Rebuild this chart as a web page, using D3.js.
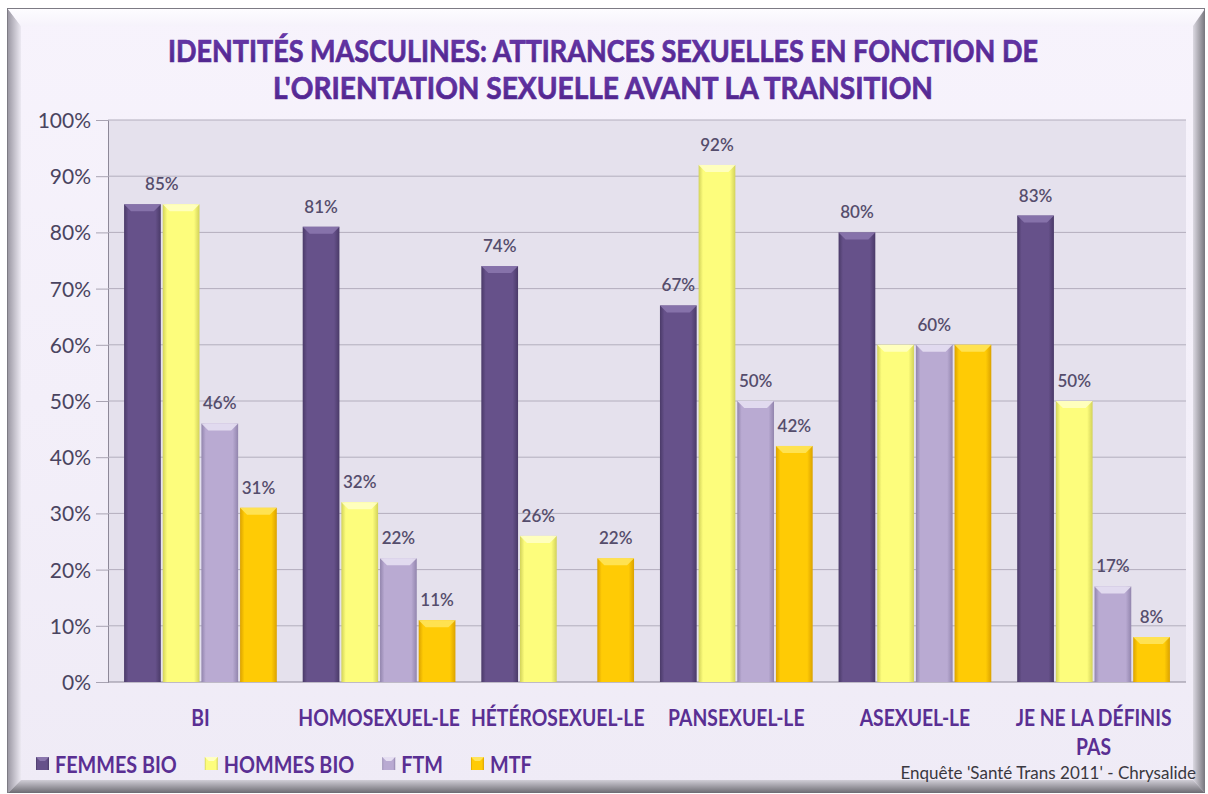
<!DOCTYPE html>
<html><head><meta charset="utf-8">
<script src="https://cdn.jsdelivr.net/npm/d3@7"></script>
<style>body{margin:0;background:#fff}</style>
</head><body>
<svg id="chart" width="1208" height="794"></svg>
<script>
const categories = ["BI", "HOMOSEXUEL-LE", "HÉTÉROSEXUEL-LE", "PANSEXUEL-LE", "ASEXUEL-LE", "JE NE LA DÉFINIS PAS"];
const seriesNames = ["FEMMES BIO", "HOMMES BIO", "FTM", "MTF"];
const femmesBio = [85, 81, 74, 67, 80, 83];
const hommesBio = [85, 32, 26, 92, 60, 50];
const ftm = [46, 22, null, 50, 60, 17];
const mtf = [31, 11, 22, 42, 60, 8];
const yTicks = [0, 10, 20, 30, 40, 50, 60, 70, 80, 90, 100];
const titleLines = ["IDENTITÉS MASCULINES: ATTIRANCES SEXUELLES EN FONCTION DE", "L'ORIENTATION SEXUELLE AVANT LA TRANSITION"];
const sourceText = "Enquête 'Santé Trans 2011' - Chrysalide";

const seriesValues = [femmesBio, hommesBio, ftm, mtf];
const colors = [
  {main:"#66518a", edge:"#4a3a68", cap:"#8a76ad"},
  {main:"#fdfd7c", edge:"#d2d25a", cap:"#ffffc4"},
  {main:"#b9aad2", edge:"#9285ad", cap:"#e6dff2"},
  {main:"#ffcb05", edge:"#dba200", cap:"#ffe45a"}
];

const svg = d3.select("#chart");
const defs = svg.append("defs");
const font = "Lato,'Open Sans',sans-serif";

// ----- frame -----
function lg(id, stops, vertical){
  const g = defs.append("linearGradient").attr("id", id)
    .attr("x1",0).attr("y1",0).attr("x2", vertical?0:1).attr("y2", vertical?1:0);
  stops.forEach(s => g.append("stop").attr("offset", s[0]).attr("stop-color", s[1]));
}
lg("bg", [[0,"#f7f3fc"],[1,"#efebf6"]], true);
lg("bevL", [[0,"#9c99a4"],[1,"#ece9f2"]], false);
lg("bevR", [[0,"#dcd9e2"],[1,"#77767d"]], false);
lg("bevB", [[0,"#d0cdd6"],[1,"#6c6b72"]], true);
lg("bevT", [[0,"#fdfcff"],[1,"#f6f3fb"]], true);
lg("titleGrad", [[0,"#6d3cb0"],[1,"#4a2185"]], true);
seriesNames.forEach((s,i)=>{
  lg("bar"+i, [[0,colors[i].edge],[0.12,colors[i].main],[0.85,colors[i].main],[1,colors[i].edge]], false);
});

const FX0=7, FY0=8, FX1=1205, FY1=793, BL=13, BT=17, BR=12, BB=13;
svg.append("rect").attr("x",FX0).attr("y",FY0).attr("width",FX1-FX0).attr("height",FY1-FY0).attr("fill","#7d7b84");
svg.append("rect").attr("x",FX0+1).attr("y",FY0+1).attr("width",FX1-FX0-2).attr("height",FY1-FY0-2).attr("fill","url(#bg)");
svg.append("path").attr("d",`M${FX0+1},${FY0+1}L${FX0+1+BL},${FY0+1+BT}L${FX0+1+BL},${FY1-BB}L${FX0+1},${FY1}Z`).attr("fill","url(#bevL)");
svg.append("path").attr("d",`M${FX0+1},${FY0+1}L${FX1-1},${FY0+1}L${FX1-BR},${FY0+1+BT}L${FX0+1+BL},${FY0+1+BT}Z`).attr("fill","url(#bevT)");
svg.append("path").attr("d",`M${FX1},${FY0+1}L${FX1-BR},${FY0+1+BT}L${FX1-BR},${FY1-BB}L${FX1},${FY1}Z`).attr("fill","url(#bevR)");
svg.append("path").attr("d",`M${FX0+1},${FY1}L${FX0+1+BL},${FY1-BB}L${FX1-BR},${FY1-BB}L${FX1},${FY1}Z`).attr("fill","url(#bevB)");

// ----- scales -----
const PL=108, PR=1186, PT=120, PB=682;
const y = d3.scaleLinear().domain([0,100]).range([PB,PT]);
const x0 = d3.scaleBand().domain(categories).range([PL,PR]).paddingInner(0.145).paddingOuter(0.09);
const x1 = d3.scaleBand().domain(d3.range(seriesNames.length)).range([0,x0.bandwidth()]).paddingInner(0.05);

svg.append("rect").attr("x",PL).attr("y",PT).attr("width",PR-PL).attr("height",PB-PT).attr("fill","#e5e1ed");

// grid & y axis
const yAxis = d3.axisLeft(y).tickValues(yTicks).tickSize(12).tickFormat(d=>d+"%");
const ga = svg.append("g").attr("transform",`translate(${PL},0)`).call(yAxis);
ga.select(".domain").attr("stroke","#8d8898");
ga.selectAll(".tick line").attr("stroke","#a8a3b2");
ga.selectAll(".tick text").attr("font-family",font).attr("font-size",21).attr("fill","#4a4460").attr("x",-17).attr("dy","0.36em");
svg.append("g").selectAll("line").data(yTicks.filter(d=>d>0)).join("line")
  .attr("x1",PL).attr("x2",PR).attr("y1",d=>y(d)).attr("y2",d=>y(d)).attr("stroke","#b3aebd").attr("stroke-width",1);
svg.append("line").attr("x1",PL).attr("x2",PR).attr("y1",PB).attr("y2",PB).attr("stroke","#8d8898");

// ----- bars -----
const barData = [];
categories.forEach((c,ci)=>seriesValues.forEach((vals,si)=>{
  if (vals[ci] != null) barData.push({c, si, v: vals[ci]});
}));
const bars = svg.append("g").selectAll("g").data(barData).join("g");
bars.append("rect")
  .attr("x",d=>x0(d.c)+x1(d.si)).attr("y",d=>y(d.v))
  .attr("width",x1.bandwidth()).attr("height",d=>PB-y(d.v))
  .attr("fill",d=>`url(#bar${d.si})`);
bars.append("path").attr("d",d=>{
  const xa=x0(d.c)+x1(d.si), xb=xa+x1.bandwidth(), yt=y(d.v), b=7;
  return `M${xa},${yt}L${xb},${yt}L${xb-b},${yt+b}L${xa+b},${yt+b}Z`;
}).attr("fill",d=>colors[d.si].cap).attr("opacity",0.9);

// ----- value labels (one per run of equal neighbouring values) -----
const labels = [];
categories.forEach((c,ci)=>{
  let si=0;
  while (si < seriesValues.length){
    const v = seriesValues[si][ci];
    if (v == null){ si++; continue; }
    let sj = si;
    while (sj+1 < seriesValues.length && seriesValues[sj+1][ci] === v) sj++;
    labels.push({c, a:si, b:sj, v});
    si = sj+1;
  }
});
svg.append("g").selectAll("text").data(labels).join("text")
  .attr("x",d=>x0(d.c)+(x1(d.a)+x1(d.b)+x1.bandwidth())/2)
  .attr("y",d=>y(d.v)-14)
  .attr("text-anchor","middle").attr("font-family",font).attr("font-size",17)
  .attr("font-weight",600).attr("fill","#554d6c").text(d=>d.v+"%");

// ----- category labels (horizontally condensed via scale transform) -----
const CAT_K = 0.84;
const catG = svg.append("g");
categories.forEach(c=>{
  const cx = x0(c)+x0.bandwidth()/2;
  const g = catG.append("g").attr("transform",`translate(${cx},726) scale(${CAT_K},1)`);
  const t = g.append("text").attr("x",0).attr("y",0).attr("text-anchor","middle")
    .attr("font-family",font).attr("font-weight","bold").attr("font-size",23).attr("fill","#5a2f93");
  const words = c.split(" ");
  let line = [];
  let ts = t.append("tspan").attr("x",0);
  words.forEach(w=>{
    line.push(w); ts.text(line.join(" "));
    if (ts.node().getComputedTextLength()*CAT_K > x0.step() && line.length>1){
      line.pop(); ts.text(line.join(" ")); line=[w];
      ts = t.append("tspan").attr("x",0).attr("dy",29).text(w);
    }
  });
});

// ----- legend -----
const LEG_K = 0.86;
const lgG = svg.append("g");
let lx = 36;
seriesNames.forEach((s,i)=>{
  lgG.append("rect").attr("x",lx).attr("y",757).attr("width",13).attr("height",13).attr("fill",`url(#bar${i})`);
  lgG.append("path").attr("d",`M${lx},757L${lx+13},757L${lx+9},761L${lx+4},761Z`).attr("fill",colors[i].cap);
  const g = lgG.append("g").attr("transform",`translate(${lx+19},773) scale(${LEG_K},1)`);
  const t = g.append("text").attr("x",0).attr("y",0).attr("font-family",font).attr("font-weight","bold")
    .attr("font-size",23).attr("fill","#5a2f93").text(s);
  const w = t.node().getComputedTextLength()*LEG_K;
  lx += 19 + w + 28;
});

// ----- title -----
const tg = svg.append("g");
[[62,870],[99,660]].forEach((p,i)=>{
  tg.append("text").attr("x",603).attr("y",p[0]).attr("text-anchor","middle")
    .attr("font-family",font).attr("font-weight","bold").attr("font-size",31)
    .attr("textLength",p[1]).attr("lengthAdjust","spacingAndGlyphs")
    .attr("fill","url(#titleGrad)").attr("stroke","#5a2b9c").attr("stroke-width",0.7).text(titleLines[i]);
});

// ----- source -----
svg.append("text").attr("x",1196).attr("y",779).attr("text-anchor","end")
  .attr("font-family",font).attr("font-size",17).attr("fill","#3a3840").text(sourceText);
</script>
</body></html>
